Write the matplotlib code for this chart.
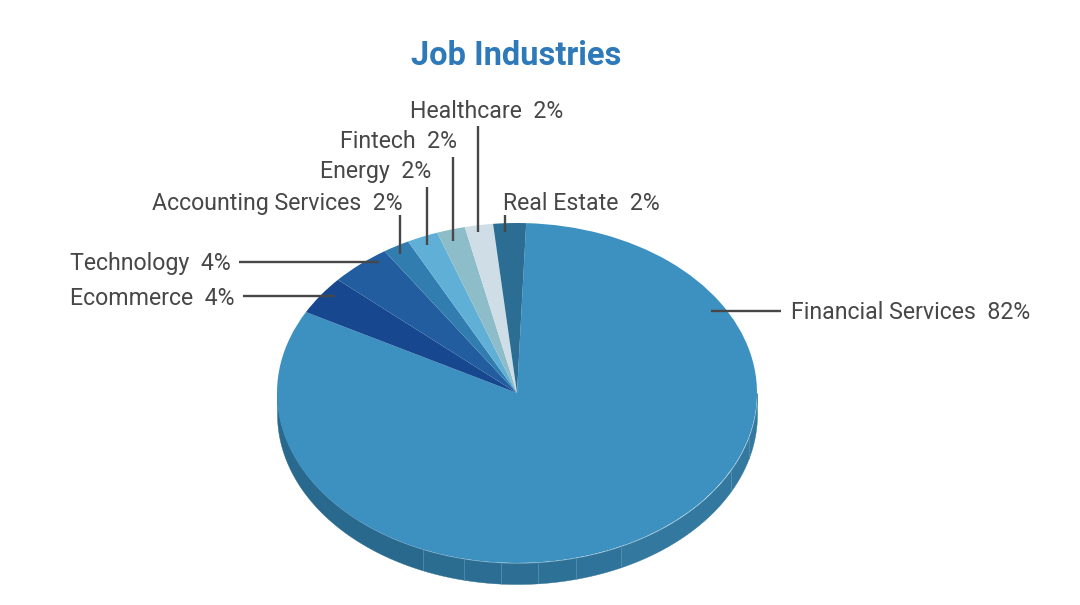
import numpy as np
import matplotlib
matplotlib.use("Agg")
import matplotlib.pyplot as plt

# Dados (fatias no sentido horario a partir do topo)
industries = ["Financial Services", "Ecommerce", "Technology", "Accounting Services",
              "Energy", "Fintech", "Healthcare", "Real Estate"]
shares = [82.2, 3.7, 4.1, 1.8, 2.1, 1.9, 1.9, 2.2]
colors = ["#3c91c0", "#17488f", "#215d9f", "#327db0",
          "#60afd7", "#8dbdc9", "#cfdde7", "#2c6e93"]

family = "Roboto"

W, H = 1080, 605
fig = plt.figure(figsize=(W / 100, H / 100), dpi=100)

# Eixo da pizza: elipse com centro (517, 393), rx 240, ry 170
cx, cy, rx, ry, depth = 517, 393, 240, 170, 21
bottom = cy + ry + depth + 2
ax = fig.add_axes([(cx - rx) / W, 1 - bottom / H, 2 * rx / W, (bottom - cy + ry) / H])

# Lateral do disco, mais escura a esquerda
d = depth / ry
seams = np.radians([-90, -23, -12.7, -3.8, 5, 14.2, 25.7, 63, 75, 90])
side_colors = ["#29698e", "#2b6c91", "#2c6e93", "#2d6f94", "#2e7196",
               "#30739a", "#33789f", "#33789f", "#33789f"]
for a, b, c in zip(seams[:-1], seams[1:], side_colors):
    t = np.linspace(a, b, 60)
    x = np.sin(t)
    y = -np.cos(t)
    ax.fill_between(x, y, y - d, color=c, lw=0.3)
for a in seams[1:-1]:
    ax.plot([np.sin(a)] * 2, [-np.cos(a), -np.cos(a) - d], color="#5f94b3", lw=0.4)

ax.pie(shares, colors=colors, startangle=87.8, counterclock=False, radius=1,
       wedgeprops={"linewidth": 0})
ax.set_aspect("auto")
ax.set_xlim(-1, 1)
ax.set_ylim(-(bottom - cy) / ry, 1)
ax.axis("off")

# Eixo em pixels para textos e linhas de chamada
over = fig.add_axes([0, 0, 1, 1])
over.set_xlim(0, W)
over.set_ylim(H, 0)
over.axis("off")
over.patch.set_alpha(0)

text_color = "#474747"
over.text(516, 65, "Job Industries", color="#2e79b9", fontsize=23.5, fontweight="bold",
          family=family, ha="center", va="baseline")

label_pos = [(791, 319), (70, 305), (70, 270), (152, 210),
             (320, 178), (340, 148), (410, 118), (503, 210)]
leaders = [((711, 311), (781, 311)), ((243, 296), (335, 296)), ((239, 262), (379, 262)),
           ((400, 215), (400, 254)), ((427, 187), (427, 245)), ((453, 157), (453, 241)),
           ((478, 126), (478, 232)), ((505, 215), (505, 232))]

for name, share, (lx, ly), (p0, p1) in zip(industries, shares, label_pos, leaders):
    over.text(lx, ly, f"{name}  {share:.0f}%", color=text_color, fontsize=16.7,
              family=family, ha="left", va="baseline")
    over.plot([p0[0], p1[0]], [p0[1], p1[1]], color=text_color, lw=1.7,
              solid_capstyle="butt")

fig.savefig("out.png", dpi=100)
